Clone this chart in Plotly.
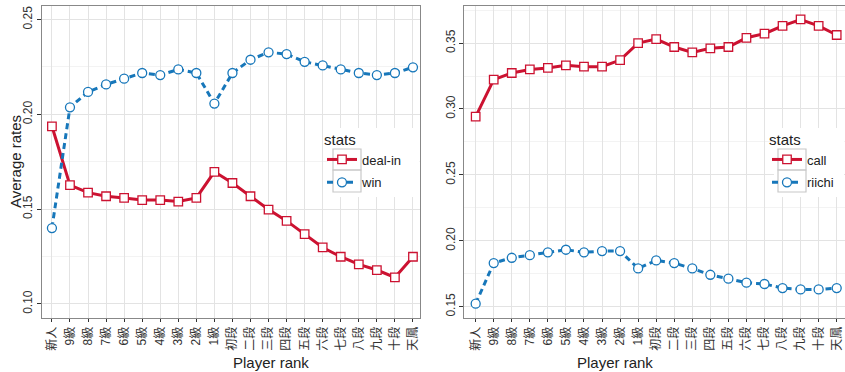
import plotly.graph_objects as go

W, H = 845, 372

ranks = ["新人", "9級", "8級", "7級", "6級", "5級", "4級", "3級", "2級", "1級",
         "初段", "二段", "三段", "四段", "五段", "六段", "七段", "八段", "九段", "十段", "天鳳"]

deal_in = [0.1937, 0.1627, 0.1587, 0.1568, 0.1559, 0.1548, 0.1548, 0.1540, 0.1559, 0.1697,
           0.1638, 0.1568, 0.1498, 0.1438, 0.1368, 0.1298, 0.1249, 0.1209, 0.1179, 0.1140, 0.1249]
win = [0.1400, 0.2037, 0.2118, 0.2158, 0.2188, 0.2218, 0.2207, 0.2237, 0.2218, 0.2057,
       0.2218, 0.2288, 0.2327, 0.2318, 0.2277, 0.2258, 0.2237, 0.2218, 0.2207, 0.2218, 0.2248]

call = [0.2942, 0.3222, 0.3273, 0.3300, 0.3311, 0.3331, 0.3321, 0.3321, 0.3371, 0.3500,
        0.3530, 0.3470, 0.3429, 0.3460, 0.3470, 0.3540, 0.3571, 0.3631, 0.3679, 0.3631, 0.3561]
riichi = [0.1523, 0.1831, 0.1871, 0.1891, 0.1912, 0.1932, 0.1912, 0.1922, 0.1922, 0.1790,
          0.1851, 0.1831, 0.1790, 0.1742, 0.1712, 0.1682, 0.1672, 0.1641, 0.1631, 0.1631, 0.1641]

RED = "#CC1231"
BLUE = "#1777BA"
FONT = "Liberation Sans, Noto Sans CJK JP, sans-serif"


def red_trace(y, name, xa, ya, lg):
    return go.Scatter(x=ranks, y=y, name=name, mode="lines+markers", xaxis=xa, yaxis=ya,
                      legend=lg, legendgroup=name,
                      line=dict(color=RED, width=3),
                      marker=dict(symbol="square", size=8.5, color="white", line=dict(color=RED, width=1.3)))


def blue_trace(y, name, xa, ya, lg):
    return go.Scatter(x=ranks, y=y, name=name, mode="lines+markers", xaxis=xa, yaxis=ya,
                      legend=lg, legendgroup=name,
                      line=dict(color=BLUE, width=3, dash="6px,4px"),
                      marker=dict(symbol="circle", size=9, color="white", line=dict(color=BLUE, width=1.3)))


fig = go.Figure()
fig.add_trace(red_trace(deal_in, "deal-in", "x", "y", "legend"))
fig.add_trace(blue_trace(win, "win", "x", "y", "legend"))
fig.add_trace(red_trace(call, "call", "x2", "y2", "legend2"))
fig.add_trace(blue_trace(riichi, "riichi", "x2", "y2", "legend2"))

ydom = [1 - 318 / H, 1 - 5.5 / H]

xcommon = dict(type="category", tickangle=-90, showgrid=True, gridcolor="#E3E3E3", gridwidth=1,
               ticks="outside", ticklen=3, tickcolor="#333", showline=True, linecolor="#888",
               linewidth=1, mirror=True, zeroline=False,
               tickfont=dict(size=12, color="#333"))
ycommon = dict(tickangle=-90, showgrid=True, gridcolor="#E3E3E3", gridwidth=1,
               ticks="outside", ticklen=4, tickcolor="#333", showline=True, linecolor="#888",
               linewidth=1, mirror=True, zeroline=False, tickformat=".2f", dtick=0.05,
               tickfont=dict(size=12, color="#333"),
               minor=dict(dtick=0.025, showgrid=True, gridcolor="#F3F3F3", ticks=""))

legcommon = dict(xanchor="left", yanchor="top", bgcolor="rgba(0,0,0,0)", tracegroupgap=3,
                 font=dict(size=13), title=dict(text="stats", font=dict(size=15)))

fig.update_layout(
    width=W, height=H,
    margin=dict(l=0, r=0, t=0, b=0, autoexpand=False),
    paper_bgcolor="white", plot_bgcolor="white",
    font=dict(family=FONT, color="#222"),
    xaxis=dict(xcommon, domain=[42 / W, 420 / W], range=[-0.55, 20.39], anchor="y"),
    yaxis=dict(ycommon, domain=ydom, range=[0.0926, 0.2574], tick0=0.1, anchor="x"),
    xaxis2=dict(xcommon, domain=[464.3 / W, 1.0], range=[-0.63, 20.46], anchor="y2"),
    yaxis2=dict(ycommon, domain=ydom, range=[0.1414, 0.3785], tick0=0.15, anchor="x2"),
    legend=dict(legcommon, x=322 / W, y=1 - 125 / H),
    legend2=dict(legcommon, x=767 / W, y=1 - 125 / H),
)

# legend backgrounds and key boxes (ggplot style)
for x0, x1 in [(328, 419), (774, 844)]:
    fig.add_shape(type="rect", xref="paper", yref="paper", x0=x0 / W, x1=x1 / W,
                  y0=1 - 197 / H, y1=1 - 128 / H, fillcolor="white", line=dict(width=0), layer="above")
for kx in [333, 778]:
    for ky0, ky1 in [(149, 170), (170, 192)]:
        fig.add_shape(type="rect", xref="paper", yref="paper", x0=kx / W, x1=(kx + 28) / W,
                      y0=1 - ky1 / H, y1=1 - ky0 / H, fillcolor="rgba(0,0,0,0)",
                      line=dict(color="#C8C8C8", width=1.2), layer="above")

# axis titles
for xc in [(42 + 420) / 2, (464 + 845) / 2]:
    fig.add_annotation(text="Player rank", xref="paper", yref="paper", x=xc / W, y=1 - 362 / H,
                       showarrow=False, font=dict(size=15, color="#222"), yanchor="middle")
fig.add_annotation(text="Average rates", xref="paper", yref="paper", x=15 / W, y=1 - 162 / H,
                   textangle=-90, showarrow=False, font=dict(size=15, color="#222"),
                   xanchor="center", yanchor="middle")

# page body has a default 8px margin; remove it so the figure fills the window
fig.write_html("out.html", config={"displayModeBar": False},
               post_script="document.body.style.margin = '0';")
